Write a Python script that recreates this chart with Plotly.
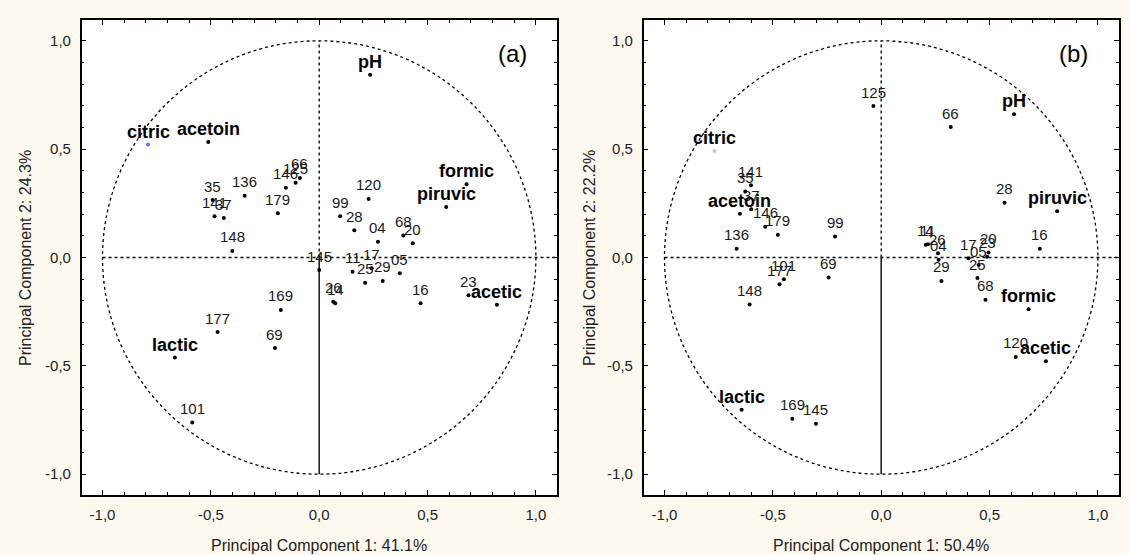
import plotly.graph_objects as go

# ---------------- data ----------------
tick_vals = [-1.0, -0.5, 0.0, 0.5, 1.0]
tick_text = ["-1,0", "-0,5", "0,0", "0,5", "1,0"]

# Panel (a)
a_sample_names = ["35", "141", "37", "136", "146", "125", "66", "179", "148", "99", "28", "120", "04", "68", "20",
                  "145", "11", "17", "25", "29", "05", "26", "14", "16", "23", "169", "177", "69", "101"]
a_sample_x = [-0.492, -0.483, -0.440, -0.344, -0.154, -0.109, -0.089, -0.191, -0.401, 0.097, 0.162, 0.228, 0.271,
              0.388, 0.432, 0.000, 0.154, 0.242, 0.212, 0.293, 0.372, 0.065, 0.074, 0.468, 0.689, -0.177, -0.469,
              -0.204, -0.586]
a_sample_y = [0.265, 0.190, 0.182, 0.285, 0.322, 0.345, 0.367, 0.204, 0.030, 0.190, 0.126, 0.270, 0.073, 0.102,
              0.066, -0.058, -0.066, -0.050, -0.116, -0.108, -0.073, -0.204, -0.211, -0.211, -0.174, -0.242, -0.344,
              -0.418, -0.762]
a_var_names = ["pH", "citric", "acetoin", "formic", "piruvic", "acetic", "lactic"]
a_var_x = [0.235, -0.790, -0.512, 0.680, 0.586, 0.820, -0.666]
a_var_y = [0.843, 0.521, 0.533, 0.338, 0.233, -0.218, -0.462]
a_xtitle = "Principal Component 1: 41.1%"
a_ytitle = "Principal Component 2: 24.3%"

# Panel (b)
b_sample_names = ["125", "66", "141", "35", "37", "146", "179", "136", "99", "101", "177", "69", "148", "169", "145",
                  "14", "11", "26", "04", "29", "17", "20", "23", "05", "25", "68", "28", "16", "120"]
b_sample_x = [-0.036, 0.321, -0.601, -0.627, -0.600, -0.535, -0.477, -0.667, -0.213, -0.449, -0.469, -0.243, -0.607,
              -0.410, -0.301, 0.206, 0.216, 0.262, 0.265, 0.278, 0.403, 0.495, 0.489, 0.450, 0.444, 0.481, 0.569,
              0.732, 0.621]
b_sample_y = [0.699, 0.602, 0.333, 0.305, 0.223, 0.142, 0.105, 0.040, 0.097, -0.100, -0.123, -0.092, -0.217, -0.744,
              -0.767, 0.059, 0.061, 0.020, -0.010, -0.108, -0.003, 0.023, 0.003, -0.035, -0.095, -0.195, 0.253,
              0.040, -0.459]
b_var_names = ["pH", "citric", "acetoin", "formic", "piruvic", "acetic", "lactic"]
b_var_x = [0.613, -0.769, -0.652, 0.680, 0.812, 0.760, -0.644]
b_var_y = [0.661, 0.492, 0.202, -0.239, 0.214, -0.479, -0.703]
b_xtitle = "Principal Component 1: 50.4%"
b_ytitle = "Principal Component 2: 22.2%"

# ---------------- style ----------------
FONT = "Arial, 'Liberation Sans', sans-serif"
BG = "#fdf9ef"
W, H = 1129, 555
highlight = {"a": {"citric": "#6e6eff"}, "b": {"citric": "#9fd6d6"}}

panels = [
    dict(key="a", xa="x", ya="y", xdom=(81.7, 556.7), label="(a)", label_px=(512, 53),
         ytitle_x=25, sx=a_sample_x, sy=a_sample_y, sn=a_sample_names,
         vx=a_var_x, vy=a_var_y, vn=a_var_names, xt=a_xtitle, yt=a_ytitle),
    dict(key="b", xa="x2", ya="y2", xdom=(643.7, 1118.7), label="(b)", label_px=(1073, 53),
         ytitle_x=589, sx=b_sample_x, sy=b_sample_y, sn=b_sample_names,
         vx=b_var_x, vy=b_var_y, vn=b_var_names, xt=b_xtitle, yt=b_ytitle),
]
ydom_px = (20, 495)
R = 1.096

fig = go.Figure()
annotations = []
shapes = []
layout_axes = {}

for i, p in enumerate(panels):
    sfx = "" if i == 0 else "2"
    xa, ya = p["xa"], p["ya"]
    # sample points
    fig.add_trace(go.Scatter(x=p["sx"], y=p["sy"], mode="markers", xaxis=xa, yaxis=ya,
                             marker=dict(size=4, color="black"), showlegend=False, hoverinfo="text",
                             text=p["sn"]))
    # variable points
    vcols = [highlight[p["key"]].get(n, "black") for n in p["vn"]]
    fig.add_trace(go.Scatter(x=p["vx"], y=p["vy"], mode="markers", xaxis=xa, yaxis=ya,
                             marker=dict(size=4, color=vcols), showlegend=False, hoverinfo="text",
                             text=p["vn"]))
    for n, x, y in zip(p["sn"], p["sx"], p["sy"]):
        annotations.append(dict(x=x, y=y, xref=xa, yref=ya, text=n, showarrow=False, yshift=14,
                                font=dict(family=FONT, size=15, color="#1a1a1a")))
    for n, x, y in zip(p["vn"], p["vx"], p["vy"]):
        annotations.append(dict(x=x, y=y, xref=xa, yref=ya, text="<b>%s</b>" % n, showarrow=False, yshift=13,
                                font=dict(family=FONT, size=18, color="black")))
    # circle and cross lines
    shapes.append(dict(type="circle", xref=xa, yref=ya, x0=-1, y0=-1, x1=1, y1=1,
                       line=dict(color="black", width=1.3, dash="dot"), layer="below"))
    shapes.append(dict(type="line", xref=xa, yref=ya, x0=-1, y0=0, x1=R, y1=0,
                       line=dict(color="black", width=1.3, dash="dot"), layer="below"))
    shapes.append(dict(type="line", xref=xa, yref=ya, x0=0, y0=0, x1=0, y1=1,
                       line=dict(color="black", width=1.3, dash="dot"), layer="below"))
    shapes.append(dict(type="line", xref=xa, yref=ya, x0=0, y0=-1, x1=0, y1=0,
                       line=dict(color="#222222", width=1.6), layer="below"))
    # panel letter
    annotations.append(dict(x=p["label_px"][0] / W, y=1 - p["label_px"][1] / H, xref="paper", yref="paper",
                            text=p["label"], showarrow=False, xanchor="center", yanchor="middle",
                            font=dict(family=FONT, size=24, color="black")))
    # axis titles
    xc = (p["xdom"][0] + p["xdom"][1]) / 2
    annotations.append(dict(x=xc / W, y=1 - 545 / H, xref="paper", yref="paper", text=p["xt"],
                            showarrow=False, xanchor="center", yanchor="middle",
                            font=dict(family=FONT, size=16, color="#222222")))
    annotations.append(dict(x=p["ytitle_x"] / W, y=1 - 258 / H, xref="paper", yref="paper", text=p["yt"],
                            showarrow=False, xanchor="center", yanchor="middle", textangle=-90,
                            font=dict(family=FONT, size=16, color="#222222")))
    axis_common = dict(range=[-R, R], tickvals=tick_vals, ticktext=tick_text, ticks="inside", ticklen=5,
                       tickcolor="black", showline=True, linecolor="black", linewidth=1.5, mirror="allticks",
                       showgrid=False, zeroline=False, tickfont=dict(family=FONT, size=15, color="#222222"),
                       minor=dict(ticks="inside", dtick=0.1, tick0=0, ticklen=3, tickcolor="black",
                                  showgrid=False), fixedrange=True)
    layout_axes["xaxis" + sfx] = dict(axis_common, domain=[p["xdom"][0] / W, p["xdom"][1] / W], anchor=ya,
                                      ticklabelstandoff=5)
    layout_axes["yaxis" + sfx] = dict(axis_common, domain=[1 - ydom_px[1] / H, 1 - ydom_px[0] / H], anchor=xa,
                                      ticklabelstandoff=6)

fig.update_layout(width=W, height=H, margin=dict(l=0, r=0, t=0, b=0), paper_bgcolor=BG, plot_bgcolor="white",
                  annotations=annotations, shapes=shapes, showlegend=False, **layout_axes)

fig.write_html("out.html")
